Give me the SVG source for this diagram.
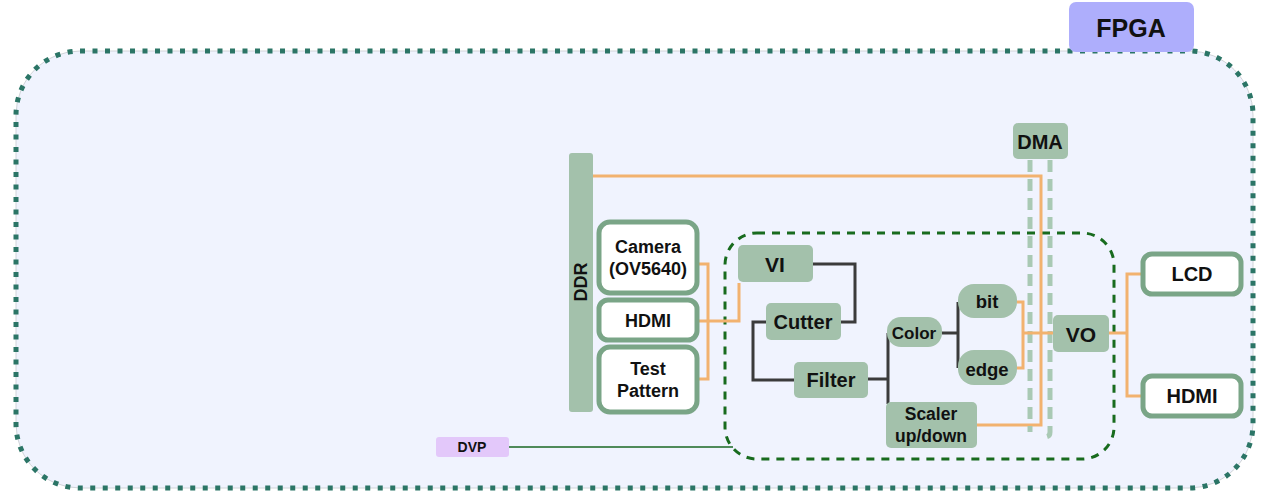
<svg xmlns="http://www.w3.org/2000/svg" width="1263" height="504" viewBox="0 0 1263 504">
<style>
.t{font-family:"Liberation Sans",Arial,sans-serif;font-weight:bold;fill:#111;text-anchor:middle;dominant-baseline:central}
.blk{fill:#a3c1ab}
.io{fill:#fff;stroke:#7aa587;stroke-width:5}
.or{fill:none;stroke:#f2b26f;stroke-width:3}
.dk{fill:none;stroke:#3b3b3b;stroke-width:3}
.dma{fill:none;stroke:#a9c9b4;stroke-width:5;stroke-dasharray:12 7}
</style>
<rect width="1263" height="504" fill="#fff"/>
<g id="fpga">
<rect x="16" y="51" width="1237" height="437" rx="64" fill="#f0f3fe" stroke="#d0d4d8" stroke-width="1"/>
<rect x="16" y="51" width="1237" height="437" rx="64" fill="none" stroke="#2b7566" stroke-width="5" stroke-dasharray="5 7.5"/>
<rect x="1069" y="2" width="125" height="50" rx="7" fill="#aeaefc"/>
<text class="t" x="1131" y="28" font-size="25">FPGA</text>
</g>
<g id="pipeline-frame">
<rect x="725" y="233" width="389" height="226" rx="32" fill="none" stroke="#186b1e" stroke-width="3" stroke-dasharray="8 7"/>
</g>
<g id="connectors">
<polyline class="or" points="593,176 1041,176 1041,425 977,425"/>
<path class="dma" d="M1030,160 V432"/>
<path class="dma" d="M1050,160 V432 Q1050,437 1045,437 H1042"/>
<polyline class="or" points="697,264 708,264 708,379 697,379"/>
<polyline class="or" points="697,321 739,321 739,283"/>
<polyline class="dk" points="813,264 855,264 855,322 841,322"/>
<polyline class="dk" points="766,322 753,322 753,380 794,380"/>
<line class="dk" x1="868" y1="379" x2="888" y2="379"/>
<line class="dk" x1="888" y1="333" x2="888" y2="404"/>
<line class="dk" x1="942" y1="333" x2="958" y2="333"/>
<line class="dk" x1="958" y1="302" x2="958" y2="368"/>
<polyline class="or" points="1017,302 1023,302 1023,368 1017,368"/>
<line class="or" x1="1023" y1="333" x2="1053" y2="333"/>
<line class="or" x1="1109" y1="333" x2="1127" y2="333"/>
<polyline class="or" points="1143,274 1127,274 1127,396 1143,396"/>
<line x1="509" y1="447" x2="733" y2="447" stroke="#4f8a5a" stroke-width="2"/>
</g>
<g id="ddr">
<rect class="blk" x="569" y="153" width="24" height="259" rx="3"/>
<text class="t" x="581" y="282" font-size="18" transform="rotate(-90 581 282)">DDR</text>
</g>
<g id="dma">
<rect class="blk" x="1013" y="123" width="55" height="36" rx="5"/>
<text class="t" x="1040" y="142" font-size="20">DMA</text>
</g>
<g id="camera">
<rect class="io" x="599" y="222" width="98" height="71" rx="11"/>
<text class="t" x="648" y="247" font-size="18">Camera</text>
<text class="t" x="648" y="269" font-size="18">(OV5640)</text>
</g>
<g id="hdmi-in">
<rect class="io" x="599" y="300" width="98" height="40" rx="9"/>
<text class="t" x="648" y="321" font-size="18">HDMI</text>
</g>
<g id="test-pattern">
<rect class="io" x="599" y="347" width="98" height="65" rx="11"/>
<text class="t" x="648" y="369" font-size="18">Test</text>
<text class="t" x="648" y="391" font-size="18">Pattern</text>
</g>
<g id="vi">
<rect class="blk" x="738" y="245" width="75" height="37" rx="5"/>
<text class="t" x="775" y="264" font-size="21">VI</text>
</g>
<g id="cutter">
<rect class="blk" x="766" y="303" width="75" height="37" rx="5"/>
<text class="t" x="803" y="322" font-size="20">Cutter</text>
</g>
<g id="filter">
<rect class="blk" x="794" y="362" width="74" height="36" rx="5"/>
<text class="t" x="831" y="380" font-size="20">Filter</text>
</g>
<g id="color">
<rect class="blk" x="887" y="317" width="55" height="30" rx="14"/>
<text class="t" x="914" y="333" font-size="17">Color</text>
</g>
<g id="bit">
<rect class="blk" x="958" y="284" width="59" height="34" rx="16"/>
<text class="t" x="987" y="301" font-size="18.5">bit</text>
</g>
<g id="edge">
<rect class="blk" x="958" y="350" width="59" height="35" rx="16"/>
<text class="t" x="987" y="369" font-size="18.5">edge</text>
</g>
<g id="scaler">
<rect class="blk" x="886" y="402" width="91" height="46" rx="5"/>
<text class="t" x="931" y="414" font-size="17.5">Scaler</text>
<text class="t" x="931" y="436" font-size="17.5">up/down</text>
</g>
<g id="vo">
<rect class="blk" x="1053" y="315" width="56" height="37" rx="5"/>
<text class="t" x="1081" y="334" font-size="21">VO</text>
</g>
<g id="lcd">
<rect class="io" x="1143" y="254" width="98" height="40" rx="9"/>
<text class="t" x="1192" y="274" font-size="20">LCD</text>
</g>
<g id="hdmi-out">
<rect class="io" x="1143" y="376" width="98" height="40" rx="9"/>
<text class="t" x="1192" y="396" font-size="20">HDMI</text>
</g>
<g id="dvp">
<rect x="436" y="437" width="73" height="20" rx="3" fill="#e3c8fa"/>
<text class="t" x="472" y="447" font-size="14">DVP</text>
</g>
</svg>
